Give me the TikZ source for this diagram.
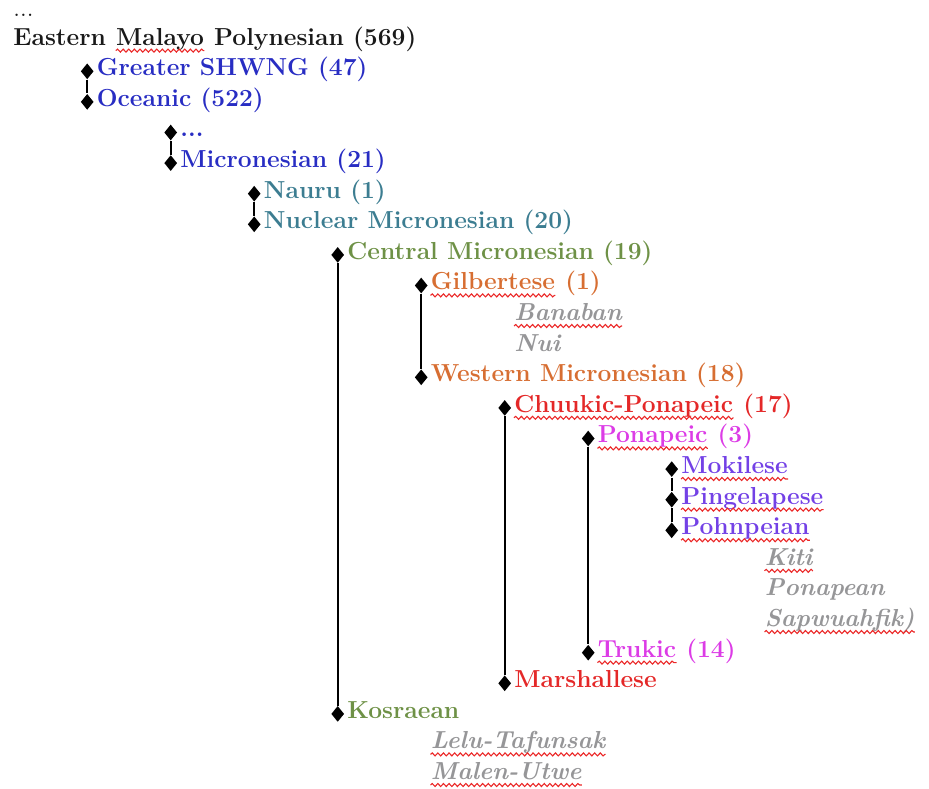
\documentclass[tikz,border=0pt]{standalone}
\usetikzlibrary{shapes.geometric, positioning, decorations.pathmorphing}
\definecolor{rootblack}{RGB}{25,25,25}
\definecolor{oceanblue}{RGB}{40,45,195}
\definecolor{nauruteal}{RGB}{60,125,145}
\definecolor{centralgreen}{RGB}{110,145,70}
\definecolor{westorange}{RGB}{215,110,50}
\definecolor{chuukred}{RGB}{228,40,40}
\definecolor{ponamagenta}{RGB}{220,60,230}
\definecolor{pohnviolet}{RGB}{115,65,230}
\definecolor{dialectgray}{RGB}{150,150,152}
\definecolor{spellred}{RGB}{235,40,40}
\tikzstyle{lang} = [
  inner sep=0pt,
  anchor=base west,
  font=\fontsize{12.3}{14}\selectfont\bfseries
]
\tikzstyle{dialect} = [
  lang,
  text=dialectgray,
  font=\fontsize{12.3}{14}\selectfont\bfseries\itshape
]
\tikzstyle{dot} = [
  diamond,
  fill=black,
  inner sep=0pt,
  minimum width=6.5pt,
  minimum height=8pt
]
\tikzstyle{branch} = [line width=1pt, black]
\tikzstyle{wavy} = [
  spellred,
  line width=0.55pt,
  decorate,
  decoration={snake, amplitude=0.75pt, segment length=2.8pt}
]

\begin{document}
\begin{tikzpicture}[x=0.5pt, y=-0.5pt]
    \useasboundingbox (0,0) rectangle (929,788);

    \node (dots-top) [lang, font=\fontsize{12.3}{14}\selectfont, text=rootblack] at (13,16) {...};
    \node (emp) [lang, text=rootblack] at (13,45) {Eastern};
    \node (malayo) [lang, text=rootblack] at ([xshift=4.7pt]emp.base east) {Malayo};
    \node (emp-rest) [lang, text=rootblack] at ([xshift=4.7pt]malayo.base east) {Polynesian (569)};
    \node (shwng) [lang, text=oceanblue] at (96.5,75.6) {Greater SHWNG (47)};
    \node (oceanic) [lang, text=oceanblue] at (96.5,106.2) {Oceanic (522)};
    \node (dots-oc) [lang, text=oceanblue] at (180,136.8) {...};
    \node (micro) [lang, text=oceanblue] at (180,167.4) {Micronesian (21)};
    \node (nauru) [lang, text=nauruteal] at (263.5,198) {Nauru (1)};
    \node (nuclear) [lang, text=nauruteal] at (263.5,228.6) {Nuclear Micronesian (20)};
    \node (central) [lang, text=centralgreen] at (347,259.2) {Central Micronesian (19)};
    \node (gilb) [lang, text=westorange] at (430.5,289.8) {Gilbertese};
    \node (gilb-n) [lang, text=westorange] at ([xshift=4.7pt]gilb.base east) {(1)};
    \node (banaban) [dialect] at (514,320.4) {Banaban};
    \node (nui) [dialect] at (514,351) {Nui};
    \node (western) [lang, text=westorange] at (430.5,381.6) {Western Micronesian (18)};
    \node (chuuk) [lang, text=chuukred] at (514,412.2) {Chuukic-Ponapeic};
    \node (chuuk-n) [lang, text=chuukred] at ([xshift=4.7pt]chuuk.base east) {(17)};
    \node (ponapeic) [lang, text=ponamagenta] at (597.5,442.8) {Ponapeic};
    \node (ponapeic-n) [lang, text=ponamagenta] at ([xshift=4.7pt]ponapeic.base east) {(3)};
    \node (mokil) [lang, text=pohnviolet] at (681,473.4) {Mokilese};
    \node (pingel) [lang, text=pohnviolet] at (681,504) {Pingelapese};
    \node (pohn) [lang, text=pohnviolet] at (681,534.6) {Pohnpeian};
    \node (kiti) [dialect] at (764.5,565.2) {Kiti};
    \node (ponapean) [dialect] at (764.5,595.8) {Ponapean};
    \node (sapw) [dialect] at (764.5,626.4) {Sapwuahfik)};
    \node (trukic) [lang, text=ponamagenta] at (597.5,657) {Trukic};
    \node (trukic-n) [lang, text=ponamagenta] at ([xshift=4.7pt]trukic.base east) {(14)};
    \node (marsh) [lang, text=chuukred] at (514,687.6) {Marshallese};
    \node (kosrae) [lang, text=centralgreen] at (347,718.2) {Kosraean};
    \node (lelu) [dialect] at (430.5,748.8) {Lelu-Tafunsak};
    \node (malen) [dialect] at (430.5,779.4) {Malen-Utwe};

    % red spelling waves under the flagged words
    \foreach \word in {malayo, gilb, banaban, chuuk, ponapeic, mokil, pingel, pohn,
                       kiti, sapw, trukic, lelu, malen}
      \draw [wavy] ([yshift=-2.8pt]\word.base west) -- ([yshift=-2.8pt]\word.base east);

    % diamonds in front of each sister
    \foreach \lname in {shwng, oceanic, dots-oc, micro, nauru, nuclear, central, gilb,
                        western, chuuk, ponapeic, mokil, pingel, pohn, trukic, marsh, kosrae}
      \node (\lname-d) [dot, left=1.2pt of \lname.mid west] {};

    \draw [branch] (shwng-d) -- (oceanic-d);
    \draw [branch] (dots-oc-d) -- (micro-d);
    \draw [branch] (nauru-d) -- (nuclear-d);
    \draw [branch] (central-d) -- (kosrae-d);
    \draw [branch] (gilb-d) -- (western-d);
    \draw [branch] (chuuk-d) -- (marsh-d);
    \draw [branch] (ponapeic-d) -- (trukic-d);
    \draw [branch] (mokil-d) -- (pingel-d);
    \draw [branch] (pingel-d) -- (pohn-d);
  \end{tikzpicture}
\end{document}
